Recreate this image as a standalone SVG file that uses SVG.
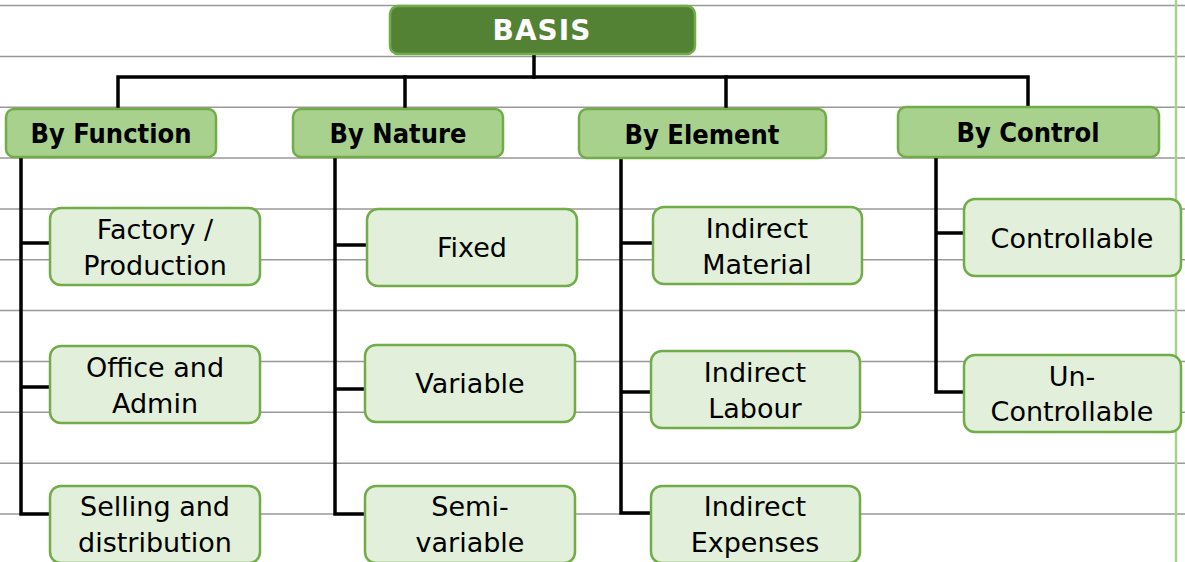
<svg xmlns="http://www.w3.org/2000/svg" width="1185" height="562" viewBox="0 0 1185 562">
  <style>
    .rule { stroke: #999; stroke-width: 1.5; fill: none; }
    .margin { stroke: #a9d18e; stroke-width: 2.5; fill: none; }
    .link { stroke: #000; stroke-width: 3.5; fill: none; stroke-linecap: square; }
    .root rect { fill: #548235; stroke: #70ad47; stroke-width: 2.5; }
    .root text { fill: #fff; font: bold 28px "DejaVu Sans", sans-serif; letter-spacing: 1px; text-anchor: middle; }
    .cat rect { fill: #a9d18e; stroke: #70ad47; stroke-width: 2.5; }
    .cat text { fill: #000; font: bold 27px "DejaVu Sans Condensed", "DejaVu Sans", sans-serif; text-anchor: middle; }
    .leaf rect { fill: #e2efda; stroke: #70ad47; stroke-width: 2.5; }
    .leaf text { fill: #000; font: 27px "DejaVu Sans", sans-serif; text-anchor: middle; }
  </style>

  <rect width="1185" height="562" fill="#fff"/>

  <!-- ruled paper -->
  <g id="paper">
    <path class="rule" d="M0 5.5H1185M0 56.4H1185M0 107.2H1185M0 158H1185M0 208.9H1185M0 259.8H1185M0 310.6H1185M0 361.5H1185M0 412.3H1185M0 463.2H1185M0 514H1185"/>
    <path class="margin" d="M1176 0V562"/>
  </g>

  <!-- connectors -->
  <g id="connectors">
    <path class="link" d="M534 54V77"/>
    <path class="link" d="M118 109V77H1028V107"/>
    <path class="link" d="M405 77V109M726 77V109"/>
    <path class="link" d="M21 157V514H50M21 243H50M21 387H50"/>
    <path class="link" d="M335 157V514H365M335 245H367M335 389H365"/>
    <path class="link" d="M621 159V513H651M621 243H653M621 392H651"/>
    <path class="link" d="M936 157V392H964M936 233H964"/>
  </g>

  <g id="basis" class="root">
    <rect x="390" y="6" width="305" height="48" rx="8"/>
    <text x="542" y="40">BASIS</text>
  </g>

  <g id="by-function" class="cat">
    <rect x="6" y="109" width="210" height="48" rx="8"/>
    <text x="111" y="143">By Function</text>
  </g>
  <g id="by-nature" class="cat">
    <rect x="293" y="109" width="210" height="48" rx="8"/>
    <text x="398" y="143">By Nature</text>
  </g>
  <g id="by-element" class="cat">
    <rect x="579" y="109" width="247" height="49" rx="8"/>
    <text x="702" y="144">By Element</text>
  </g>
  <g id="by-control" class="cat">
    <rect x="898" y="107" width="261" height="50" rx="8"/>
    <text x="1028" y="142">By Control</text>
  </g>

  <g id="factory" class="leaf">
    <rect x="50" y="208" width="210" height="77" rx="11"/>
    <text x="155" y="239">Factory /</text>
    <text x="155" y="275">Production</text>
  </g>
  <g id="office" class="leaf">
    <rect x="50" y="346" width="210" height="77" rx="11"/>
    <text x="155" y="377">Office and</text>
    <text x="155" y="413">Admin</text>
  </g>
  <g id="selling" class="leaf">
    <rect x="50" y="486" width="210" height="77" rx="11"/>
    <text x="155" y="516">Selling and</text>
    <text x="155" y="552">distribution</text>
  </g>

  <g id="fixed" class="leaf">
    <rect x="367" y="209" width="210" height="77" rx="11"/>
    <text x="472" y="257">Fixed</text>
  </g>
  <g id="variable" class="leaf">
    <rect x="365" y="345" width="210" height="77" rx="11"/>
    <text x="470" y="393">Variable</text>
  </g>
  <g id="semi-variable" class="leaf">
    <rect x="365" y="486" width="210" height="77" rx="11"/>
    <text x="470" y="516">Semi-</text>
    <text x="470" y="552">variable</text>
  </g>

  <g id="indirect-material" class="leaf">
    <rect x="653" y="207" width="209" height="77" rx="11"/>
    <text x="757" y="238">Indirect</text>
    <text x="757" y="274">Material</text>
  </g>
  <g id="indirect-labour" class="leaf">
    <rect x="651" y="351" width="209" height="77" rx="11"/>
    <text x="755" y="382">Indirect</text>
    <text x="755" y="418">Labour</text>
  </g>
  <g id="indirect-expenses" class="leaf">
    <rect x="651" y="486" width="209" height="77" rx="11"/>
    <text x="755" y="516">Indirect</text>
    <text x="755" y="552">Expenses</text>
  </g>

  <g id="controllable" class="leaf">
    <rect x="964" y="199" width="217" height="77" rx="11"/>
    <text x="1072" y="248">Controllable</text>
  </g>
  <g id="uncontrollable" class="leaf">
    <rect x="964" y="355" width="217" height="77" rx="11"/>
    <text x="1072" y="386">Un-</text>
    <text x="1072" y="421">Controllable</text>
  </g>
</svg>
